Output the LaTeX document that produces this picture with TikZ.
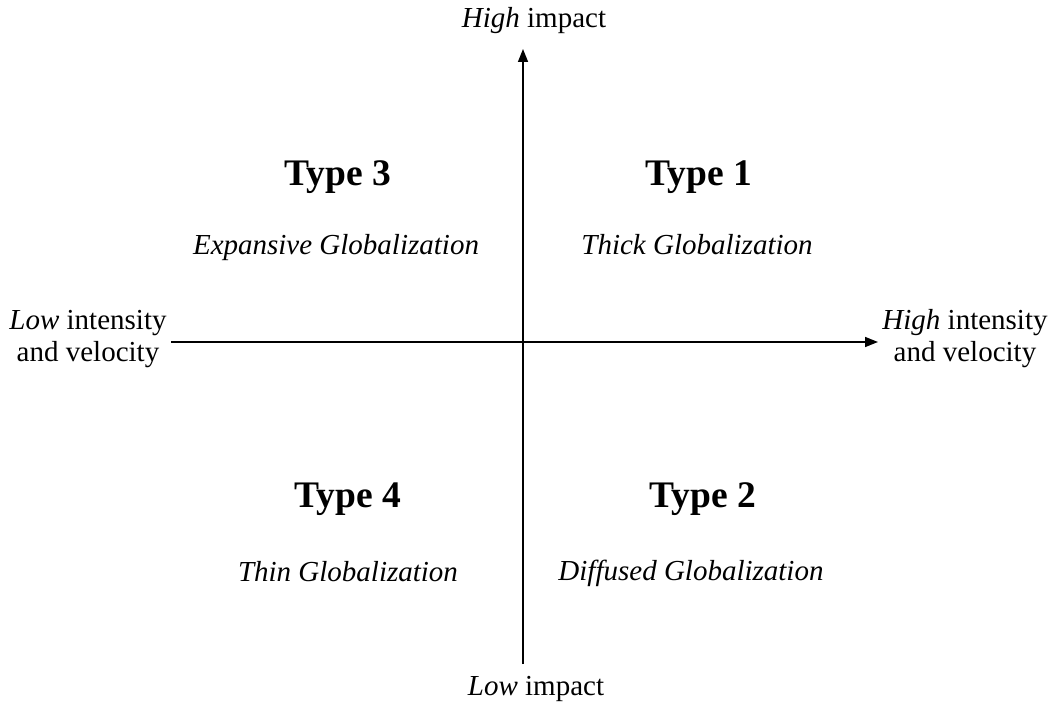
\documentclass[tikz,border=0pt]{standalone}
\usepackage{fontspec}
\setmainfont{Liberation Serif}
\usetikzlibrary{arrows.meta}
\begin{document}
\begin{tikzpicture}[x=1pt,y=-1pt,
  axis/.style={line width=1.5pt,-{Triangle[length=13pt,width=10pt]}},
  typelabel/.style={font=\fontsize{37.5}{42}\selectfont\bfseries,inner sep=0pt,anchor=base},
  sublabel/.style={font=\fontsize{29}{34}\selectfont\itshape,inner sep=0pt,anchor=base},
  axlabel/.style={font=\fontsize{29}{32}\selectfont,inner sep=0pt,align=center,anchor=base}]
\useasboundingbox (0,0) rectangle (1051,708);
\coordinate (ytop) at (523,49);
\coordinate (ybot) at (523,664);
\coordinate (xleft) at (171,342);
\coordinate (xright) at (878,342);
\draw[axis] (ybot) -- (ytop);
\draw[axis] (xleft) -- (xright);
\node[axlabel] (hi) at (534,28) {\textit{High} impact};
\node[axlabel] (lo) at (536,695) {\textit{Low} impact};
\node[axlabel] (li) at (88,361) {\textit{Low} intensity\\and velocity};
\node[axlabel] (hii) at (965,361) {\textit{High} intensity\\and velocity};
\node[typelabel] (t3) at (338,186) {Type 3};
\node[typelabel] (t1) at (699,186) {Type 1};
\node[typelabel] (t4) at (348,507) {Type 4};
\node[typelabel] (t2) at (703,507) {Type 2};
\node[sublabel] (s3) at (336,255) {Expansive Globalization};
\node[sublabel] (s1) at (697,255) {Thick Globalization};
\node[sublabel] (s4) at (348,581) {Thin Globalization};
\node[sublabel] (s2) at (691,580) {Diffused Globalization};
\end{tikzpicture}
\end{document}
